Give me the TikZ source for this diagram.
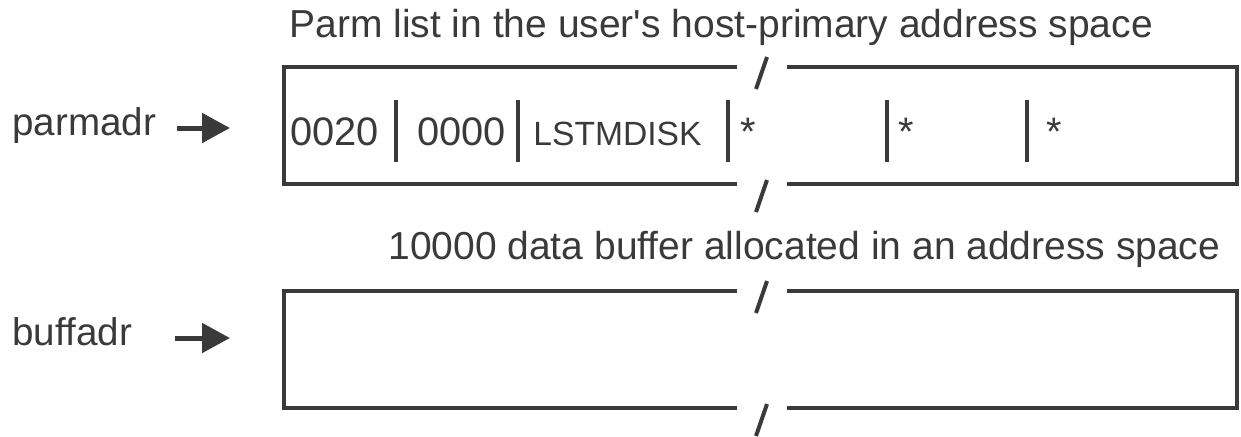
\documentclass[tikz,border=0pt]{standalone}
\usepackage{fontspec}
\setmainfont{Liberation Sans}
\usetikzlibrary{arrows.meta}

\definecolor{ink}{RGB}{58,58,58}

\tikzset{
  boxline/.style={ink, line width=2pt, line join=miter},
  brk/.style={ink, line width=2pt},
  fieldsep/.style={ink, line width=2pt},
  ptr/.style={ink, line width=2.5pt, -{Triangle[length=14pt,width=14.5pt]}},
  lbl/.style={ink, anchor=base west, inner sep=0pt, font=\fontsize{19.9}{24}\selectfont},
  ttl/.style={lbl, font=\fontsize{19.5}{23}\selectfont},
  ptrlbl/.style={lbl, font=\fontsize{19.3}{23}\selectfont},
  small/.style={lbl, font=\fontsize{16.8}{20}\selectfont},
}

\begin{document}
\begin{tikzpicture}[x=0.5pt, y=-0.5pt]
  \useasboundingbox (0,0) rectangle (1241,436);

  % titles
  \node[ttl] (ptitle) at (289,37) {Parm list in the user\textquotesingle s host-primary address space};
  \node[ttl] (btitle) at (388,259) {10000 data buffer allocated in an address space};

  % the two boxes, each broken in the middle
  \foreach \ytop in {67,291} {
    \begin{scope}[shift={(0,\ytop)}]
      \draw[boxline] (737,0) -- (284,0) -- (284,117) -- (737,117);
      \draw[boxline] (787,0) -- (1237,0) -- (1237,117) -- (787,117);
      \draw[brk] (767,-10) -- (756,22);
      \draw[brk] (767,113) -- (756,145);
    \end{scope}
  }

  % pointers
  \node[ptrlbl] (parmadr) at (12,135) {parmadr};
  \node[ptrlbl] (buffadr) at (12,345) {buffadr};
  \coordinate (parmtip) at (230,128);
  \coordinate (bufftip) at (230,338);
  \draw[ptr] ([xshift=10pt,yshift=3.5pt]parmadr.base east) -- (parmtip);
  \draw[ptr] ([xshift=21.5pt,yshift=3.5pt]buffadr.base east) -- (bufftip);

  % fields of the parm list
  \node[lbl] (len) at (290,145) {0020};
  \node[lbl] (rsv) at (417,145) {0000};
  \node[small] (cmd) at (533,145) {LSTMDISK};
  \foreach \x in {396,518,728,887,1027}
    \draw[fieldsep] (\x,100) -- (\x,162);
  \foreach \x/\n in {740/a1,898/a2,1046/a3}
    \node[lbl] (\n) at (\x,145) {*};
\end{tikzpicture}
\end{document}
